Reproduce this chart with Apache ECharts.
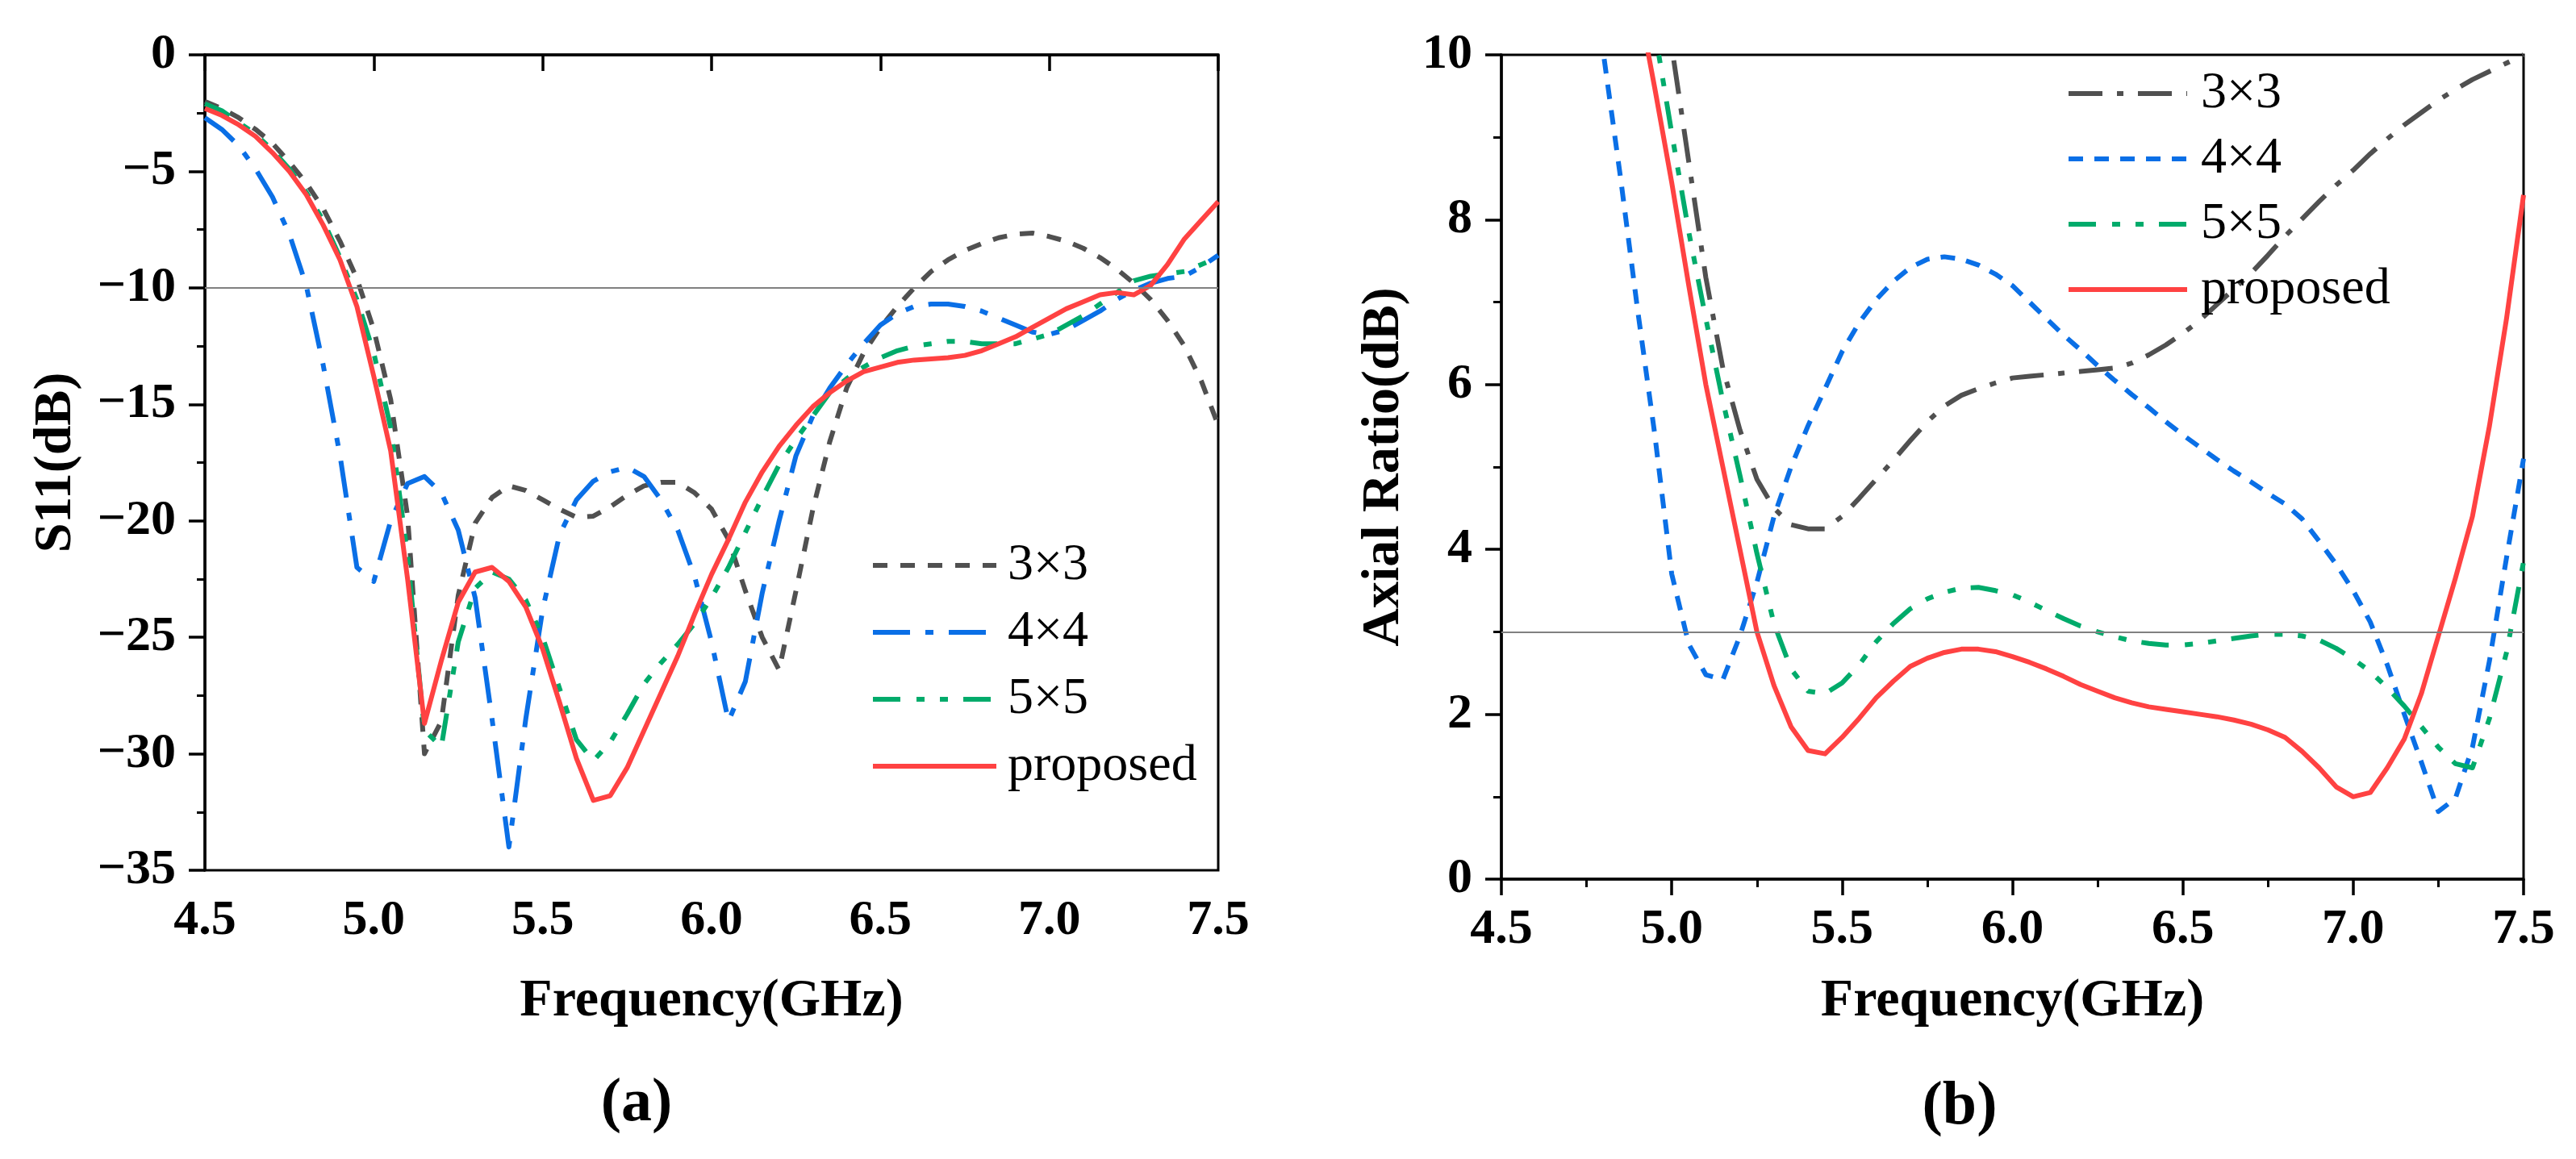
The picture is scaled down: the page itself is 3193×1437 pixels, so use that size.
<!DOCTYPE html>
<html>
<head>
<meta charset="utf-8">
<title>S11 and Axial Ratio</title>
<script src="https://cdn.jsdelivr.net/npm/echarts@6/dist/echarts.min.js"></script>
<style>
  html, body { margin: 0; padding: 0; background: #fff; }
  #main { width: 3193px; height: 1437px; }
</style>
</head>
<body>
<div id="main"></div>
<script>
// frequency grid (GHz), shared by all curves
var freq = [4.50,4.55,4.60,4.65,4.70,4.75,4.80,4.85,4.90,4.95,
            5.00,5.05,5.10,5.15,5.20,5.25,5.30,5.35,5.40,5.45,
            5.50,5.55,5.60,5.65,5.70,5.75,5.80,5.85,5.90,5.95,
            6.00,6.05,6.10,6.15,6.20,6.25,6.30,6.35,6.40,6.45,
            6.50,6.55,6.60,6.65,6.70,6.75,6.80,6.85,6.90,6.95,
            7.00,7.05,7.10,7.15,7.20,7.25,7.30,7.35,7.40,7.45,7.50];

var names = ['3×3', '4×4', '5×5', 'proposed'];
var xTicks = [4.5, 5.0, 5.5, 6.0, 6.5, 7.0, 7.5];

// (a) S11 (dB)
var s11_3x3 = [-2.0,-2.3,-2.7,-3.2,-3.8,-4.6,-5.5,-6.6,-8.0,-9.6,
  -11.8,-14.8,-19.8,-30.0,-28.6,-23.2,-20.1,-19.0,-18.5,-18.7,
  -19.1,-19.5,-19.85,-19.8,-19.4,-18.9,-18.5,-18.35,-18.35,-18.8,
  -19.5,-20.8,-23.0,-25.0,-26.4,-23.0,-19.5,-16.6,-14.3,-12.8,
  -11.7,-10.8,-10.0,-9.3,-8.8,-8.4,-8.1,-7.85,-7.7,-7.65,
  -7.8,-8.0,-8.3,-8.7,-9.2,-9.8,-10.5,-11.4,-12.5,-14.0,-15.9];
var s11_4x4 = [-2.7,-3.2,-3.9,-4.9,-6.1,-7.7,-9.9,-13.3,-17.2,-22.0,
  -22.6,-20.0,-18.4,-18.1,-18.8,-20.4,-23.3,-28.5,-34.0,-28.5,
  -23.8,-20.6,-19.1,-18.3,-17.9,-17.7,-18.1,-19.1,-20.4,-22.4,
  -25.2,-28.6,-26.9,-23.1,-20.0,-17.2,-15.5,-14.3,-13.3,-12.4,
  -11.6,-11.1,-10.8,-10.7,-10.7,-10.8,-11.0,-11.3,-11.6,-11.9,
  -12.0,-11.8,-11.4,-11.0,-10.5,-10.1,-9.8,-9.6,-9.5,-9.1,-8.6];
var s11_5x5 = [-2.1,-2.4,-2.9,-3.4,-4.1,-4.9,-5.9,-7.1,-8.7,-10.5,
  -12.8,-16.0,-21.5,-29.0,-29.7,-25.2,-22.9,-22.2,-22.5,-23.4,
  -25.0,-27.2,-29.4,-30.3,-29.5,-28.3,-27.0,-26.1,-25.3,-24.4,
  -23.3,-22.0,-20.5,-19.0,-17.6,-16.5,-15.5,-14.5,-13.9,-13.4,
  -13.0,-12.7,-12.5,-12.4,-12.3,-12.3,-12.4,-12.4,-12.4,-12.2,
  -12.0,-11.6,-11.2,-10.7,-10.2,-9.7,-9.5,-9.4,-9.3,-9.0,-8.7];
var s11_prop = [-2.3,-2.6,-3.0,-3.5,-4.2,-5.0,-6.0,-7.3,-8.8,-10.8,
  -13.8,-17.0,-22.5,-28.7,-26.0,-23.5,-22.2,-22.0,-22.6,-23.7,
  -25.5,-27.8,-30.2,-32.0,-31.8,-30.6,-29.0,-27.4,-25.8,-24.0,
  -22.3,-20.8,-19.2,-17.9,-16.8,-15.9,-15.1,-14.5,-14.0,-13.6,
  -13.4,-13.2,-13.1,-13.05,-13.0,-12.9,-12.7,-12.4,-12.1,-11.7,
  -11.3,-10.9,-10.6,-10.3,-10.2,-10.3,-9.9,-9.0,-7.9,-7.1,-6.3];
var s11Ticks = [0, -5, -10, -15, -20, -25, -30, -35];
var s11Limit = -10;

// (b) Axial Ratio (dB), null = above the plotted range
var ar_3x3 = [null,null,null,null,null,null,null,null,null,11.6,
  10.1,8.7,7.3,6.2,5.45,4.85,4.5,4.3,4.25,4.25,
  4.4,4.62,4.85,5.08,5.32,5.55,5.74,5.87,5.95,6.02,
  6.08,6.1,6.12,6.14,6.16,6.18,6.2,6.26,6.36,6.48,
  6.62,6.78,6.97,7.16,7.35,7.57,7.8,8.01,8.22,8.42,
  8.6,8.8,8.98,9.15,9.3,9.45,9.58,9.7,9.8,9.9,10.0];
var ar_4x4 = [null,null,null,null,null,11.5,10.0,8.5,6.9,5.4,
  3.7,2.85,2.48,2.42,2.95,3.6,4.4,5.0,5.5,5.95,
  6.4,6.75,7.03,7.25,7.42,7.52,7.55,7.52,7.45,7.34,
  7.2,7.0,6.8,6.6,6.42,6.23,6.05,5.88,5.72,5.55,
  5.39,5.24,5.09,4.95,4.82,4.68,4.55,4.37,4.1,3.82,
  3.5,3.12,2.6,2.0,1.42,0.82,0.98,1.6,2.65,3.9,5.1];
var ar_5x5 = [null,null,null,null,null,null,null,null,11.6,10.3,
  9.05,7.85,6.8,5.8,4.9,3.95,3.1,2.55,2.28,2.25,
  2.38,2.6,2.88,3.1,3.28,3.4,3.48,3.53,3.54,3.5,
  3.45,3.36,3.26,3.16,3.07,3.0,2.94,2.89,2.86,2.84,
  2.84,2.86,2.89,2.92,2.95,2.97,2.97,2.95,2.9,2.8,
  2.67,2.52,2.32,2.1,1.85,1.6,1.4,1.35,1.95,2.75,3.85];
var ar_prop = [null,null,null,null,null,null,null,null,10.7,9.6,
  8.45,7.2,6.0,5.0,4.0,3.0,2.35,1.85,1.56,1.52,
  1.72,1.95,2.2,2.4,2.58,2.68,2.75,2.79,2.79,2.76,
  2.7,2.63,2.55,2.46,2.36,2.28,2.2,2.14,2.09,2.06,
  2.03,2.0,1.97,1.93,1.88,1.81,1.72,1.55,1.35,1.12,
  1.0,1.05,1.35,1.7,2.25,2.95,3.65,4.4,5.5,6.8,8.3];
var arTicks = [0, 2, 4, 6, 8, 10];
var arLimit = 3;

var GRAY = '#505050', BLUE = '#0a6fe6', GREEN = '#00ab6b', RED = '#ff4242';
var FONT = '"Liberation Serif", "Times New Roman", serif';

function pairs(ys) {
  return freq.map(function (f, i) { return [f, ys[i]]; });
}

function minus(v) {
  return v < 0 ? '\u2212' + Math.abs(v) : String(v);
}

function xAxisOf(idx, nameGap, minor) {
  return {
    gridIndex: idx, type: 'value',
    min: xTicks[0], max: xTicks[xTicks.length - 1], interval: 0.5,
    name: 'Frequency(GHz)', nameLocation: 'middle', nameGap: nameGap,
    nameTextStyle: { fontFamily: FONT, fontWeight: 'bold', fontSize: 66, color: '#000' },
    axisLine: { lineStyle: { color: '#000', width: 3.5 } },
    axisTick: { length: 20, lineStyle: { color: '#000', width: 3.5 } },
    minorTick: { show: minor, splitNumber: 2, length: 10, lineStyle: { color: '#000', width: 3 } },
    splitLine: { show: false },
    axisLabel: {
      margin: 32, fontFamily: FONT, fontWeight: 'bold', fontSize: 62, color: '#000',
      formatter: function (v) { return v.toFixed(1); }
    }
  };
}

function yAxisOf(idx, name, ticks, step, nameGap) {
  return {
    gridIndex: idx, type: 'value',
    min: Math.min.apply(null, ticks), max: Math.max.apply(null, ticks), interval: step,
    name: name, nameLocation: 'middle', nameRotate: 90, nameGap: nameGap,
    nameTextStyle: { fontFamily: FONT, fontWeight: 'bold', fontSize: 66, color: '#000' },
    axisLine: { lineStyle: { color: '#000', width: 3.5 } },
    axisTick: { length: 20, lineStyle: { color: '#000', width: 3.5 } },
    minorTick: { show: true, splitNumber: 2, length: 10, lineStyle: { color: '#000', width: 3 } },
    splitLine: { show: false },
    axisLabel: {
      margin: 36, fontFamily: FONT, fontWeight: 'bold', fontSize: 62, color: '#000',
      formatter: minus
    }
  };
}

function line(name, idx, ys, color, dash) {
  return {
    name: name, type: 'line', xAxisIndex: idx, yAxisIndex: idx,
    data: pairs(ys), symbol: 'none', smooth: false, clip: true,
    lineStyle: { color: color, width: 6, type: dash, cap: 'butt', join: 'round' },
    itemStyle: { color: color }
  };
}

function limitLine(idx, y) {
  return {
    type: 'line', xAxisIndex: idx, yAxisIndex: idx, data: [], silent: true,
    markLine: {
      silent: true, symbol: ['none', 'none'], label: { show: false },
      lineStyle: { color: '#808080', width: 2, type: 'solid' },
      data: [{ yAxis: y }]
    }
  };
}

function legendOf(left, top, gap, pad, list, width) {
  return {
    orient: 'vertical', left: left, top: top, padding: 0,
    itemGap: gap, itemWidth: width, itemHeight: 20,
    selectedMode: false, data: list,
    lineStyle: { width: 6 },
    itemStyle: { opacity: 0, color: 'rgba(0,0,0,0)', borderWidth: 0 },
    formatter: function (n) { return n.replace(' (b)', ''); },
    textStyle: { fontFamily: FONT, fontSize: 64, lineHeight: 64, color: '#000', padding: [0, 0, 0, pad] }
  };
}

var bNames = names.map(function (n) { return n + ' (b)'; });

var myChart = echarts.init(document.getElementById('main'));

var option = {
  backgroundColor: '#fff',
  animation: false,
  title: [
    { text: '{p|(}{b|a}{p|)}', left: 784, top: 1326, textAlign: 'center',
      textStyle: { rich: {
        p: { fontFamily: FONT, fontSize: 76, color: '#000' },
        b: { fontFamily: FONT, fontSize: 76, fontWeight: 'bold', color: '#000' } } } },
    { text: '{p|(}{b|b}{p|)}', left: 2424, top: 1330, textAlign: 'center',
      textStyle: { rich: {
        p: { fontFamily: FONT, fontSize: 76, color: '#000' },
        b: { fontFamily: FONT, fontSize: 76, fontWeight: 'bold', color: '#000' } } } }
  ],
  grid: [
    { left: 254, top: 68, width: 1256, height: 1011, show: true, borderColor: '#000', borderWidth: 3 },
    { left: 1861, top: 68, width: 1267, height: 1022, show: true, borderColor: '#000', borderWidth: 3 }
  ],
  legend: [
    legendOf(1079, 669, 19, 9, names, 153),
    legendOf(2561, 84, 17, 12, bNames, 147)
  ],
  xAxis: [xAxisOf(0, 130, false), xAxisOf(1, 119, true)],
  yAxis: [
    yAxisOf(0, 'S11(dB)', s11Ticks, 5, 151),
    yAxisOf(1, 'Axial Ratio(dB)', arTicks, 2, 112)
  ],
  series: [
    limitLine(0, s11Limit),
    line(names[0], 0, s11_3x3, GRAY, [18, 16]),
    line(names[1], 0, s11_4x4, BLUE, [46, 19, 10, 19]),
    line(names[2], 0, s11_5x5, GREEN, [34, 20, 10, 19, 10, 19]),
    line(names[3], 0, s11_prop, RED, 'solid'),
    limitLine(1, arLimit),
    line(bNames[0], 1, ar_3x3, GRAY, [42, 18, 8, 18]),
    line(bNames[1], 1, ar_4x4, BLUE, [18, 14]),
    line(bNames[2], 1, ar_5x5, GREEN, [34, 20, 10, 19, 10, 19]),
    line(bNames[3], 1, ar_prop, RED, 'solid')
  ]
};

myChart.setOption(option);
</script>
</body>
</html>
